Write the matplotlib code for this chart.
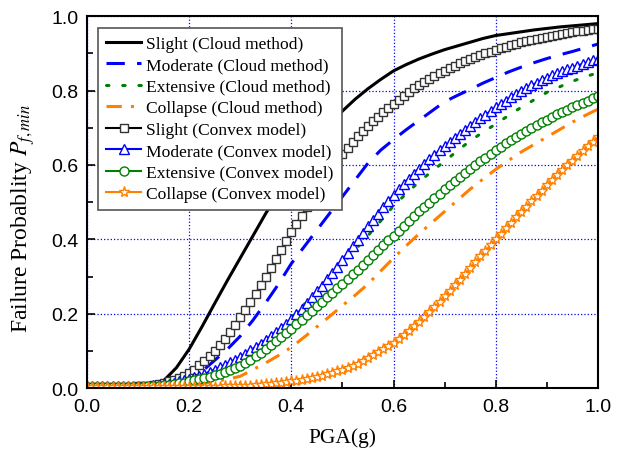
import numpy as np
import matplotlib
matplotlib.use('Agg')
import matplotlib.pyplot as plt
from matplotlib.ticker import MultipleLocator

# PGA grid for the cloud-method curves (step 0.025)
pga_cloud = np.round(np.arange(0, 1.0001, 0.025), 3)
slight_cloud = [0.0, 0.0, 0.0, 0.0, 0.001, 0.005, 0.02, 0.055, 0.105, 0.165,
                0.228, 0.29, 0.35, 0.41, 0.47, 0.525, 0.575, 0.622, 0.665, 0.706,
                0.745, 0.777, 0.805, 0.83, 0.853, 0.87, 0.885, 0.898, 0.91, 0.92,
                0.93, 0.94, 0.948, 0.953, 0.958, 0.963, 0.967, 0.971, 0.974, 0.977,
                0.98]
moderate_cloud = [0.002, 0.002, 0.002, 0.002, 0.003, 0.004, 0.008, 0.014, 0.025, 0.045,
                  0.075, 0.105, 0.14, 0.183, 0.23, 0.28, 0.335, 0.38, 0.425, 0.47,
                  0.515, 0.56, 0.605, 0.64, 0.668, 0.695, 0.72, 0.745, 0.77, 0.787,
                  0.803, 0.82, 0.835, 0.85, 0.863, 0.875, 0.886, 0.896, 0.905, 0.915,
                  0.925]
extensive_cloud = [0.002, 0.002, 0.002, 0.002, 0.003, 0.004, 0.007, 0.011, 0.018, 0.025,
                   0.035, 0.048, 0.065, 0.09, 0.12, 0.153, 0.19, 0.225, 0.26, 0.298,
                   0.335, 0.372, 0.41, 0.45, 0.49, 0.523, 0.555, 0.583, 0.61, 0.638,
                   0.665, 0.688, 0.71, 0.733, 0.755, 0.775, 0.795, 0.81, 0.825, 0.837,
                   0.848]
collapse_cloud = [0.002, 0.002, 0.002, 0.002, 0.002, 0.002, 0.004, 0.006, 0.008, 0.012,
                  0.018, 0.024, 0.032, 0.05, 0.068, 0.088, 0.11, 0.137, 0.165, 0.193,
                  0.222, 0.25, 0.28, 0.315, 0.35, 0.383, 0.415, 0.445, 0.475, 0.505,
                  0.535, 0.562, 0.588, 0.612, 0.635, 0.655, 0.675, 0.695, 0.715, 0.733,
                  0.75]

# PGA grid for the convex-model curves (step 0.01)
pga_convex = np.round(np.arange(0, 1.0001, 0.01), 2)
slight_convex = [
    0.003, 0.003, 0.003, 0.003, 0.003, 0.003, 0.003, 0.004, 0.004, 0.004,
    0.005, 0.006, 0.007, 0.008, 0.011, 0.015, 0.019, 0.023, 0.027, 0.033,
    0.040, 0.050, 0.061, 0.073, 0.086, 0.100, 0.115, 0.132, 0.150, 0.170,
    0.190, 0.211, 0.232, 0.254, 0.277, 0.300, 0.324, 0.348, 0.372, 0.396,
    0.420, 0.442, 0.464, 0.486, 0.508, 0.530, 0.551, 0.571, 0.591, 0.611,
    0.630, 0.646, 0.662, 0.677, 0.691, 0.705, 0.718, 0.730, 0.742, 0.754,
    0.765, 0.776, 0.786, 0.796, 0.806, 0.815, 0.823, 0.831, 0.839, 0.846,
    0.853, 0.860, 0.867, 0.873, 0.879, 0.885, 0.890, 0.895, 0.900, 0.905,
    0.910, 0.914, 0.918, 0.922, 0.926, 0.930, 0.933, 0.936, 0.939, 0.942,
    0.945, 0.947, 0.950, 0.952, 0.955, 0.957, 0.959, 0.961, 0.963, 0.965,
    0.966]
moderate_convex = [
    0.005, 0.005, 0.005, 0.005, 0.005, 0.005, 0.005, 0.005, 0.005, 0.005,
    0.006, 0.006, 0.007, 0.008, 0.009, 0.010, 0.012, 0.015, 0.018, 0.021,
    0.025, 0.029, 0.034, 0.039, 0.044, 0.050, 0.056, 0.063, 0.070, 0.077,
    0.085, 0.093, 0.102, 0.111, 0.120, 0.130, 0.140, 0.151, 0.162, 0.173,
    0.185, 0.199, 0.213, 0.228, 0.244, 0.260, 0.276, 0.293, 0.310, 0.327,
    0.345, 0.363, 0.381, 0.399, 0.417, 0.435, 0.452, 0.469, 0.486, 0.503,
    0.520, 0.535, 0.549, 0.563, 0.577, 0.590, 0.603, 0.615, 0.627, 0.639,
    0.650, 0.661, 0.672, 0.683, 0.694, 0.705, 0.715, 0.725, 0.735, 0.745,
    0.755, 0.764, 0.773, 0.782, 0.791, 0.800, 0.807, 0.814, 0.821, 0.828,
    0.835, 0.841, 0.846, 0.852, 0.857, 0.862, 0.867, 0.872, 0.876, 0.881,
    0.885]
extensive_convex = [
    0.003, 0.003, 0.003, 0.003, 0.003, 0.003, 0.003, 0.003, 0.004, 0.004,
    0.004, 0.004, 0.005, 0.006, 0.007, 0.008, 0.009, 0.011, 0.013, 0.015,
    0.018, 0.021, 0.024, 0.027, 0.031, 0.035, 0.039, 0.044, 0.049, 0.054,
    0.060, 0.068, 0.077, 0.086, 0.095, 0.105, 0.116, 0.127, 0.138, 0.149,
    0.160, 0.172, 0.184, 0.196, 0.208, 0.220, 0.232, 0.244, 0.256, 0.268,
    0.280, 0.293, 0.306, 0.319, 0.332, 0.345, 0.358, 0.371, 0.384, 0.397,
    0.410, 0.423, 0.436, 0.449, 0.462, 0.475, 0.487, 0.499, 0.511, 0.523,
    0.535, 0.546, 0.557, 0.568, 0.579, 0.590, 0.600, 0.610, 0.620, 0.630,
    0.640, 0.649, 0.658, 0.667, 0.675, 0.683, 0.691, 0.699, 0.707, 0.715,
    0.722, 0.729, 0.736, 0.742, 0.749, 0.755, 0.761, 0.767, 0.773, 0.779,
    0.785]
collapse_convex = [
    0.003, 0.003, 0.003, 0.003, 0.003, 0.003, 0.003, 0.003, 0.003, 0.003,
    0.003, 0.003, 0.003, 0.003, 0.003, 0.003, 0.003, 0.003, 0.003, 0.003,
    0.003, 0.003, 0.003, 0.004, 0.004, 0.004, 0.004, 0.005, 0.005, 0.005,
    0.006, 0.006, 0.007, 0.008, 0.009, 0.010, 0.011, 0.013, 0.014, 0.016,
    0.018, 0.020, 0.022, 0.024, 0.027, 0.030, 0.033, 0.037, 0.041, 0.045,
    0.050, 0.055, 0.060, 0.066, 0.073, 0.080, 0.088, 0.096, 0.104, 0.113,
    0.122, 0.132, 0.143, 0.154, 0.166, 0.178, 0.191, 0.204, 0.218, 0.232,
    0.247, 0.262, 0.277, 0.292, 0.307, 0.322, 0.338, 0.354, 0.369, 0.385,
    0.400, 0.415, 0.430, 0.445, 0.459, 0.474, 0.488, 0.502, 0.516, 0.531,
    0.545, 0.559, 0.572, 0.586, 0.599, 0.612, 0.625, 0.638, 0.650, 0.663,
    0.675]

# tick numbers in an Arial-like face, labels and legend in a Times-like serif
plt.rcParams['font.family'] = ['Liberation Sans', 'Arial', 'DejaVu Sans']
plt.rcParams['mathtext.fontset'] = 'stix'
serif = 'Liberation Serif'

fig = plt.figure(figsize=(6.17, 4.52), dpi=100)
ax = fig.add_axes([0.141, 0.139, 0.828, 0.823])

blue = '#0000FF'
green = '#008000'
orange = '#FF8000'

ax.plot(pga_cloud, slight_cloud, color='black', lw=2.2, label='Slight (Cloud method)')
ax.plot(pga_cloud, moderate_cloud, color=blue, lw=2.2, dashes=(6, 4),
        label='Moderate (Cloud method)')
ax.plot(pga_cloud, extensive_cloud, color=green, lw=2.2, dashes=(0.8, 4.5),
        dash_capstyle='round', label='Extensive (Cloud method)')
ax.plot(pga_cloud, collapse_cloud, color=orange, lw=2.2, dashes=(5, 3, 1, 3),
        label='Collapse (Cloud method)')

mk = dict(lw=1.5, mew=1.0, mfc='white')
ax.plot(pga_convex, slight_convex, color='black', marker='s', ms=6, mec='#333333',
        label='Slight (Convex model)', **mk)
ax.plot(pga_convex, moderate_convex, color=blue, marker='^', ms=7,
        label='Moderate (Convex model)', **mk)
ax.plot(pga_convex, extensive_convex, color=green, marker='o', ms=6.5,
        label='Extensive (Convex model)', **mk)
ax.plot(pga_convex, collapse_convex, color=orange, marker='*', ms=8,
        label='Collapse (Convex model)', **mk)

ax.set_xlim(0, 1)
ax.set_ylim(0, 1)
ax.xaxis.set_major_locator(MultipleLocator(0.2))
ax.xaxis.set_minor_locator(MultipleLocator(0.1))
ax.yaxis.set_major_locator(MultipleLocator(0.2))
ax.yaxis.set_minor_locator(MultipleLocator(0.1))
ax.tick_params(which='both', direction='in', width=1.2)
ax.tick_params(which='major', length=6, labelsize=14)
ax.tick_params(axis='x', which='major', pad=7)
ax.tick_params(axis='y', which='major', pad=6)
ax.tick_params(which='minor', length=4)
for sp in ax.spines.values():
    sp.set_linewidth(1.5)
ax.grid(True, which='major', color=blue, ls=':', lw=0.9)

ax.set_xlabel('PGA(g)', fontsize=15.5, family=serif, labelpad=9)
ax.set_ylabel('Failure Probablity $P_{f,min}$', fontsize=17, family=serif)
ax.yaxis.set_label_coords(-0.097, 0.46)

leg = ax.legend(loc='upper left', frameon=True, fancybox=False,
                prop={'family': serif, 'size': 12.6},
                edgecolor='#555555', framealpha=1, labelspacing=0.3,
                handlelength=2.0, handletextpad=0.3, borderaxespad=0.65,
                borderpad=0.45)
leg.get_frame().set_linewidth(1.2)

fig.savefig('out.png', dpi=100)
